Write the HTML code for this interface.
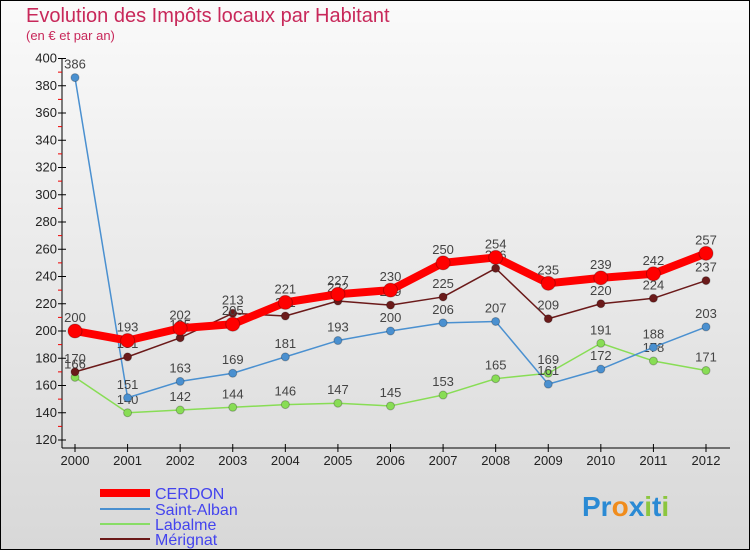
<!DOCTYPE html>
<html><head><meta charset="utf-8"><style>
body{margin:0}
#c{width:750px;height:550px;position:relative;font-family:"Liberation Sans",sans-serif;overflow:hidden}
</style></head><body>
<div id="c">
<svg id="s" width="750" height="550" xmlns="http://www.w3.org/2000/svg">
<defs><linearGradient id="bg" x1="0" y1="0" x2="0" y2="1"><stop offset="0" stop-color="#fafafa"/><stop offset="1" stop-color="#d8d8d8"/></linearGradient></defs>
<rect x="0.5" y="0.5" width="749" height="549" fill="url(#bg)" stroke="#000"/>
<text x="26" y="22" font-size="20" fill="#c8285a">Evolution des Impôts locaux par Habitant</text>
<text x="26" y="40" font-size="13" fill="#c8285a">(en € et par an)</text>
<g id="axes"></g><g id="series"></g>
<g>
<line x1="100" y1="493" x2="150" y2="493" stroke="#f00" stroke-width="8"/>
<text x="155" y="499" font-size="16" fill="#4444ee">CERDON</text>
<line x1="100" y1="509" x2="150" y2="509" stroke="#4a90d0" stroke-width="2"/>
<text x="155" y="515" font-size="16" fill="#4444ee">Saint-Alban</text>
<line x1="100" y1="524" x2="150" y2="524" stroke="#88dd66" stroke-width="2"/>
<text x="155" y="530" font-size="16" fill="#4444ee">Labalme</text>
<line x1="100" y1="539" x2="150" y2="539" stroke="#6b1a1a" stroke-width="2"/>
<text x="155" y="545" font-size="16" fill="#4444ee">Mérignat</text>
</g>
<text x="582" y="516" font-size="28" font-weight="bold"><tspan fill="#2a8ad4">Pr</tspan><tspan fill="#f08c1c">o</tspan><tspan fill="#2a8ad4">x</tspan><tspan fill="#8cc63f">i</tspan><tspan fill="#2a8ad4">t</tspan><tspan fill="#8cc63f">i</tspan></text>
</svg></div>
<script>
const years=["2000","2001","2002","2003","2004","2005","2006","2007","2008","2009","2010","2011","2012"];
const yTicks=[120,140,160,180,200,220,240,260,280,300,320,340,360,380,400];
const cerdon=[200,193,202,205,221,227,230,250,254,235,239,242,257];
const saintAlban=[386,151,163,169,181,193,200,206,207,161,172,188,203];
const labalme=[166,140,142,144,146,147,145,153,165,169,191,178,171];
const merignat=[170,181,195,213,211,222,219,225,246,209,220,224,237];
const NS="http://www.w3.org/2000/svg";
function X(i){return 75+i*(706-75)/12;}
function Y(v){return 440-(v-120)*(440-58.5)/280;}
function mk(t,a,p){const e=document.createElementNS(NS,t);for(const k in a)e.setAttribute(k,a[k]);p.appendChild(e);return e;}
const ax=document.getElementById('axes');
const axl=mk('line',{x1:62,y1:Y(400),x2:62,y2:448,stroke:'#000'},ax);


const xl=mk('line',{x1:62,y1:448,x2:730,y2:448,stroke:'#000'},ax);


yTicks.forEach((v,i)=>{
  mk('line',{x1:58,y1:Y(v),x2:66,y2:Y(v),stroke:'#000'},ax);
  if(i<yTicks.length-1)mk('line',{x1:58,y1:Y(v+10),x2:62,y2:Y(v+10),stroke:'#e00'},ax);
  const t=mk('text',{x:57,y:Y(v)+4,'font-size':13,'text-anchor':'end',fill:'#222'},ax);t.textContent=v;
  
  
});
years.forEach((y,i)=>{
  mk('line',{x1:X(i),y1:444,x2:X(i),y2:452,stroke:'#000'},ax);
  const t=mk('text',{x:X(i),y:465,'font-size':13,'text-anchor':'middle',fill:'#222'},ax);t.textContent=y;
  
  
});
const sg=document.getElementById('series');
function draw(data,name,color,w,r){
  const g=mk('g',{},sg);
  
  
  mk('polyline',{points:data.map((v,i)=>X(i)+','+Y(v)).join(' '),fill:'none',stroke:color,'stroke-width':w,'stroke-linejoin':'round'},g);
  data.forEach((v,i)=>{
    const c=mk('circle',{cx:X(i),cy:Y(v),r:r,fill:color,stroke:'rgba(0,0,0,0.25)'},g);
    
    
    const t=mk('text',{x:X(i),y:Y(v)-9,'font-size':13,'text-anchor':'middle',fill:'#444'},g);t.textContent=v;
    
    
  });
}
draw(labalme,'labalme','#88dd55',1.5,4);
draw(saintAlban,'saint-alban','#4a90d0',1.5,4);
draw(merignat,'merignat','#6b1a1a',1.5,4);
draw(cerdon,'cerdon','#ff0000',8,7);
</script>
</body></html>
